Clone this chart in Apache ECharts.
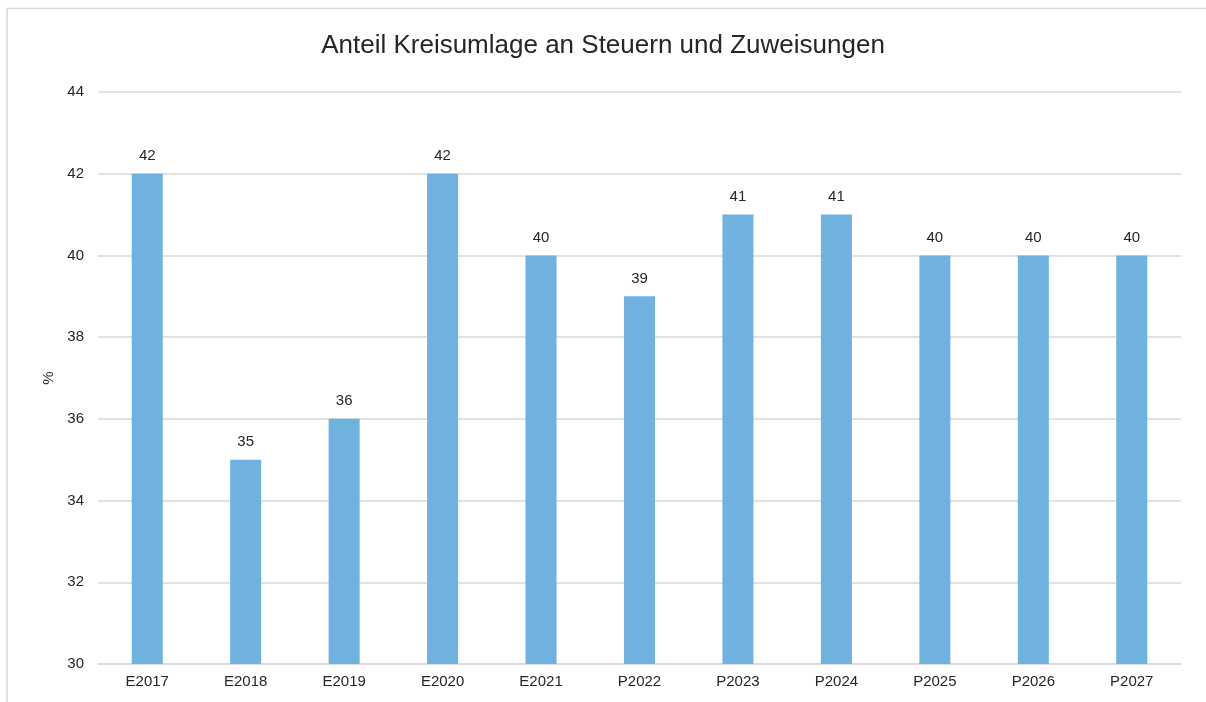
<!DOCTYPE html>
<html>
<head>
<meta charset="utf-8">
<script src="https://cdn.jsdelivr.net/npm/echarts@6/dist/echarts.min.js"></script>
<style>
html,body{margin:0;padding:0;background:#fff;}
#chart{width:1206px;height:702px;}
</style>
</head>
<body>
<div id="chart"></div>
<script>
var categories = ['E2017','E2018','E2019','E2020','E2021','P2022','P2023','P2024','P2025','P2026','P2027'];
var shares = [42,35,36,42,40,39,41,41,40,40,40];
var yTicks = [30,32,34,36,38,40,42,44];

var myChart = echarts.init(document.getElementById('chart'));
var option = {
    animation: false,
    backgroundColor: '#fff',
    textStyle: {fontFamily: 'Liberation Sans, Arial, sans-serif'},
    graphic: [{
        type: 'rect',
        silent: true,
        shape: {x: 7, y: 8.5, width: 1400, height: 900},
        style: {fill: 'none', stroke: '#d9d9d9', lineWidth: 1.5}
    }],
    title: {
        text: 'Anteil Kreisumlage an Steuern und Zuweisungen',
        left: 'center',
        top: 28,
        textStyle: {
            fontSize: 26,
            fontWeight: 'normal',
            color: '#262626',
            fontFamily: 'Liberation Sans, Arial, sans-serif'
        }
    },
    grid: {left: 98, right: 25, top: 92, bottom: 38, containLabel: false},
    xAxis: {
        type: 'category',
        data: categories,
        axisLine: {lineStyle: {color: '#d9d9d9', width: 1.5}},
        axisTick: {show: false},
        axisLabel: {color: '#262626', fontSize: 15, margin: 10}
    },
    yAxis: {
        type: 'value',
        min: yTicks[0],
        max: yTicks[yTicks.length - 1],
        interval: 2,
        name: '%',
        nameLocation: 'middle',
        nameGap: 41,
        nameTextStyle: {color: '#262626', fontSize: 15},
        axisLine: {show: false},
        axisTick: {show: false},
        axisLabel: {color: '#262626', fontSize: 15, margin: 14},
        splitLine: {lineStyle: {color: '#d9d9d9', width: 1.5}}
    },
    series: [{
        type: 'bar',
        data: shares,
        barWidth: '31.5%',
        itemStyle: {color: '#6fb2e0'},
        label: {
            show: true,
            position: 'top',
            distance: 10,
            color: '#262626',
            fontSize: 15
        }
    }]
};
myChart.setOption(option);
</script>
</body>
</html>
